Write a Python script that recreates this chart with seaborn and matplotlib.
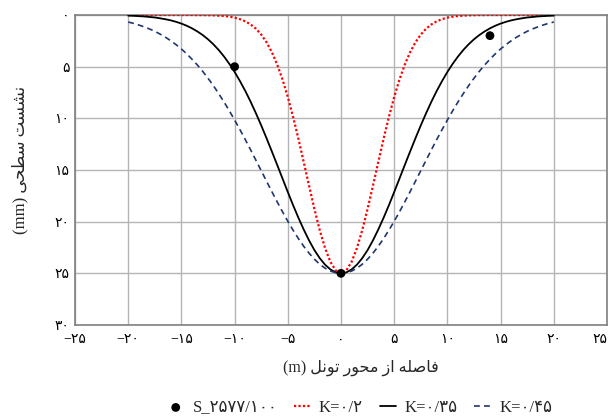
import pandas as pd
import seaborn as sns
import matplotlib.pyplot as plt

# Distance from the tunnel axis (m), sampled every half metre
distance = [-20.0, -19.5, -19.0, -18.5, -18.0, -17.5, -17.0, -16.5, -16.0, -15.5, -15.0, -14.5, -14.0,
            -13.5, -13.0, -12.5, -12.0, -11.5, -11.0, -10.5, -10.0, -9.5, -9.0, -8.5, -8.0, -7.5, -7.0,
            -6.5, -6.0, -5.5, -5.0, -4.5, -4.0, -3.5, -3.0, -2.5, -2.0, -1.5, -1.0, -0.5, 0.0,
            0.5, 1.0, 1.5, 2.0, 2.5, 3.0, 3.5, 4.0, 4.5, 5.0, 5.5, 6.0, 6.5, 7.0, 7.5, 8.0, 8.5, 9.0,
            9.5, 10.0, 10.5, 11.0, 11.5, 12.0, 12.5, 13.0, 13.5, 14.0, 14.5, 15.0, 15.5, 16.0, 16.5,
            17.0, 17.5, 18.0, 18.5, 19.0, 19.5, 20.0]

# Surface settlement (mm) for each trough-width parameter K
settle_k020 = [0.00, 0.00, 0.00, 0.00, 0.00, 0.00, 0.00, 0.00, 0.00, 0.00, 0.00, 0.00, 0.00,
               0.01, 0.01, 0.02, 0.03, 0.06, 0.10, 0.16, 0.25, 0.40, 0.61, 0.91, 1.32, 1.89, 2.64,
               3.59, 4.79, 6.23, 7.93, 9.87, 11.99, 14.25, 16.54, 18.76, 20.81, 22.55, 23.88, 24.71, 25.00,
               24.71, 23.88, 22.55, 20.81, 18.76, 16.54, 14.25, 11.99, 9.87, 7.93, 6.23, 4.79, 3.59, 2.64,
               1.89, 1.32, 0.91, 0.61, 0.40, 0.25, 0.16, 0.10, 0.06, 0.03, 0.02, 0.01, 0.01,
               0.00, 0.00, 0.00, 0.00, 0.00, 0.00, 0.00, 0.00, 0.00, 0.00, 0.00, 0.00, 0.00]
settle_k035 = [0.06, 0.08, 0.11, 0.14, 0.19, 0.24, 0.32, 0.41, 0.52, 0.66, 0.83, 1.04, 1.29,
               1.59, 1.94, 2.35, 2.83, 3.38, 4.01, 4.72, 5.51, 6.39, 7.34, 8.38, 9.50, 10.68, 11.92,
               13.20, 14.50, 15.82, 17.13, 18.41, 19.63, 20.77, 21.82, 22.75, 23.53, 24.16, 24.62, 24.91, 25.00,
               24.91, 24.62, 24.16, 23.53, 22.75, 21.82, 20.77, 19.63, 18.41, 17.13, 15.82, 14.50, 13.20, 11.92,
               10.68, 9.50, 8.38, 7.34, 6.39, 5.51, 4.72, 4.01, 3.38, 2.83, 2.35, 1.94, 1.59,
               1.29, 1.04, 0.83, 0.66, 0.52, 0.41, 0.32, 0.24, 0.19, 0.14, 0.11, 0.08, 0.06]
settle_k045 = [0.68, 0.81, 0.97, 1.15, 1.35, 1.58, 1.85, 2.15, 2.49, 2.87, 3.29, 3.76, 4.28,
               4.84, 5.45, 6.12, 6.83, 7.60, 8.41, 9.26, 10.16, 11.09, 12.05, 13.04, 14.05, 15.06, 16.08,
               17.09, 18.08, 19.04, 19.96, 20.83, 21.64, 22.39, 23.05, 23.63, 24.12, 24.50, 24.78, 24.94, 25.00,
               24.94, 24.78, 24.50, 24.12, 23.63, 23.05, 22.39, 21.64, 20.83, 19.96, 19.04, 18.08, 17.09, 16.08,
               15.06, 14.05, 13.04, 12.05, 11.09, 10.16, 9.26, 8.41, 7.60, 6.83, 6.12, 5.45, 4.84,
               4.28, 3.76, 3.29, 2.87, 2.49, 2.15, 1.85, 1.58, 1.35, 1.15, 0.97, 0.81, 0.68]

# Measured settlement at the monitoring section
measured_x = [-10, 0, 14]
measured_s = [5.0, 25.0, 2.0]
measured_name = "S_2577/100"

k_labels = ["0/2", "0/35", "0/45"]

x_ticks = [-25, -20, -15, -10, -5, 0, 5, 10, 15, 20, 25]
y_ticks = [0, 5, 10, 15, 20, 25, 30]

FA_DIGITS = str.maketrans("0123456789-", "۰۱۲۳۴۵۶۷۸۹−")


def fa(text):
    return str(text).translate(FA_DIGITS)


# matplotlib places glyphs one after another without contextual joining or
# right-to-left ordering, so Persian words are shaped here into presentation
# forms (isolated, final, initial, medial) and laid out in visual order.
FORMS = {
    "ا": ("\uFE8D", "\uFE8E", None, None),
    "ت": ("\uFE95", "\uFE96", "\uFE97", "\uFE98"),
    "ح": ("\uFEA1", "\uFEA2", "\uFEA3", "\uFEA4"),
    "ر": ("\uFEAD", "\uFEAE", None, None),
    "ز": ("\uFEAF", "\uFEB0", None, None),
    "س": ("\uFEB1", "\uFEB2", "\uFEB3", "\uFEB4"),
    "ش": ("\uFEB5", "\uFEB6", "\uFEB7", "\uFEB8"),
    "ص": ("\uFEB9", "\uFEBA", "\uFEBB", "\uFEBC"),
    "ط": ("\uFEC1", "\uFEC2", "\uFEC3", "\uFEC4"),
    "ف": ("\uFED1", "\uFED2", "\uFED3", "\uFED4"),
    "ل": ("\uFEDD", "\uFEDE", "\uFEDF", "\uFEE0"),
    "م": ("\uFEE1", "\uFEE2", "\uFEE3", "\uFEE4"),
    "ن": ("\uFEE5", "\uFEE6", "\uFEE7", "\uFEE8"),
    "ه": ("\uFEE9", "\uFEEA", "\uFEEB", "\uFEEC"),
    "و": ("\uFEED", "\uFEEE", None, None),
    "ی": ("\uFEEF", "\uFEF0", "\uFEF3", "\uFEF4"),
}


def joins_next(ch):
    return ch in FORMS and FORMS[ch][2] is not None


def shape_rtl(text):
    out = []
    for i, ch in enumerate(text):
        if ch not in FORMS:
            out.append(ch)
            continue
        prev_ch = text[i - 1] if i > 0 else ""
        next_ch = text[i + 1] if i + 1 < len(text) else ""
        from_prev = joins_next(prev_ch)
        to_next = joins_next(ch) and next_ch in FORMS
        iso, fin, ini, med = FORMS[ch]
        if from_prev and to_next:
            out.append(med)
        elif from_prev:
            out.append(fin)
        elif to_next:
            out.append(ini)
        else:
            out.append(iso)
    return "".join(reversed(out))


curves = pd.DataFrame({
    "distance": distance * 3,
    "settlement": settle_k020 + settle_k035 + settle_k045,
    "K": ["K=" + fa(k_labels[0])] * len(distance)
         + ["K=" + fa(k_labels[1])] * len(distance)
         + ["K=" + fa(k_labels[2])] * len(distance),
})
points = pd.DataFrame({"distance": measured_x, "settlement": measured_s})

sns.set_style("white")
plt.rcParams["font.family"] = ["Liberation Serif", "DejaVu Sans"]
plt.rcParams["axes.unicode_minus"] = True

fig = plt.figure(figsize=(6.1, 4.2), dpi=100)
ax = fig.add_axes([75 / 610, 1 - 325 / 420, 532 / 610, 310 / 420])

styles = [
    ("#ff0000", (0, (1, 1)), 1.6),
    ("#000000", "-", 1.3),
    ("#1f3670", (0, (3.5, 2.5)), 1.2),
]
names = curves["K"].unique()
for name, (color, ls, lw) in zip(names, styles):
    sns.lineplot(data=curves[curves["K"] == name], x="distance", y="settlement",
                 color=color, linestyle=ls, linewidth=lw, label=name, ax=ax,
                 sort=False, estimator=None, zorder=3)

sns.scatterplot(data=points, x="distance", y="settlement", color="black", s=40,
                edgecolor="none", label=fa(measured_name), ax=ax, zorder=4)

ax.set_xlim(-25, 25)
ax.set_ylim(30, 0)
ax.set_xticks(x_ticks)
ax.set_yticks(y_ticks)
ax.set_xticklabels([fa(v) for v in x_ticks], fontsize=10)
ax.set_yticklabels([fa(v) for v in y_ticks], fontsize=10)
ax.tick_params(axis="x", length=0, pad=6, colors="black")
ax.tick_params(axis="y", length=0, pad=4, colors="black")
ax.get_xticklabels()[-1].set_horizontalalignment("right")

ax.grid(True, color="#b4b4b4", linewidth=1.0)
ax.set_axisbelow(True)
for spine in ax.spines.values():
    spine.set_visible(True)
    spine.set_color("#808080")
    spine.set_linewidth(1.2)

ax.set_xlabel("(m) " + shape_rtl("فاصله از محور تونل"), fontsize=11.5, va="center")
ax.xaxis.set_label_coords(0.538, -0.139)
ax.set_ylabel("(mm) " + shape_rtl("نشست سطحی"), fontsize=12, va="center")
ax.yaxis.set_label_coords(-0.103, 0.532)

handles, labels = ax.get_legend_handles_labels()
order = [3, 0, 1, 2]
ax.legend([handles[i] for i in order], [labels[i] for i in order],
          loc="center", bbox_to_anchor=(0.59, 0.029), bbox_transform=fig.transFigure,
          ncol=4, frameon=False, fontsize=12, handlelength=1.0, handletextpad=0.5,
          columnspacing=1.0, borderaxespad=0, borderpad=0)

fig.savefig("out.png", dpi=100)
